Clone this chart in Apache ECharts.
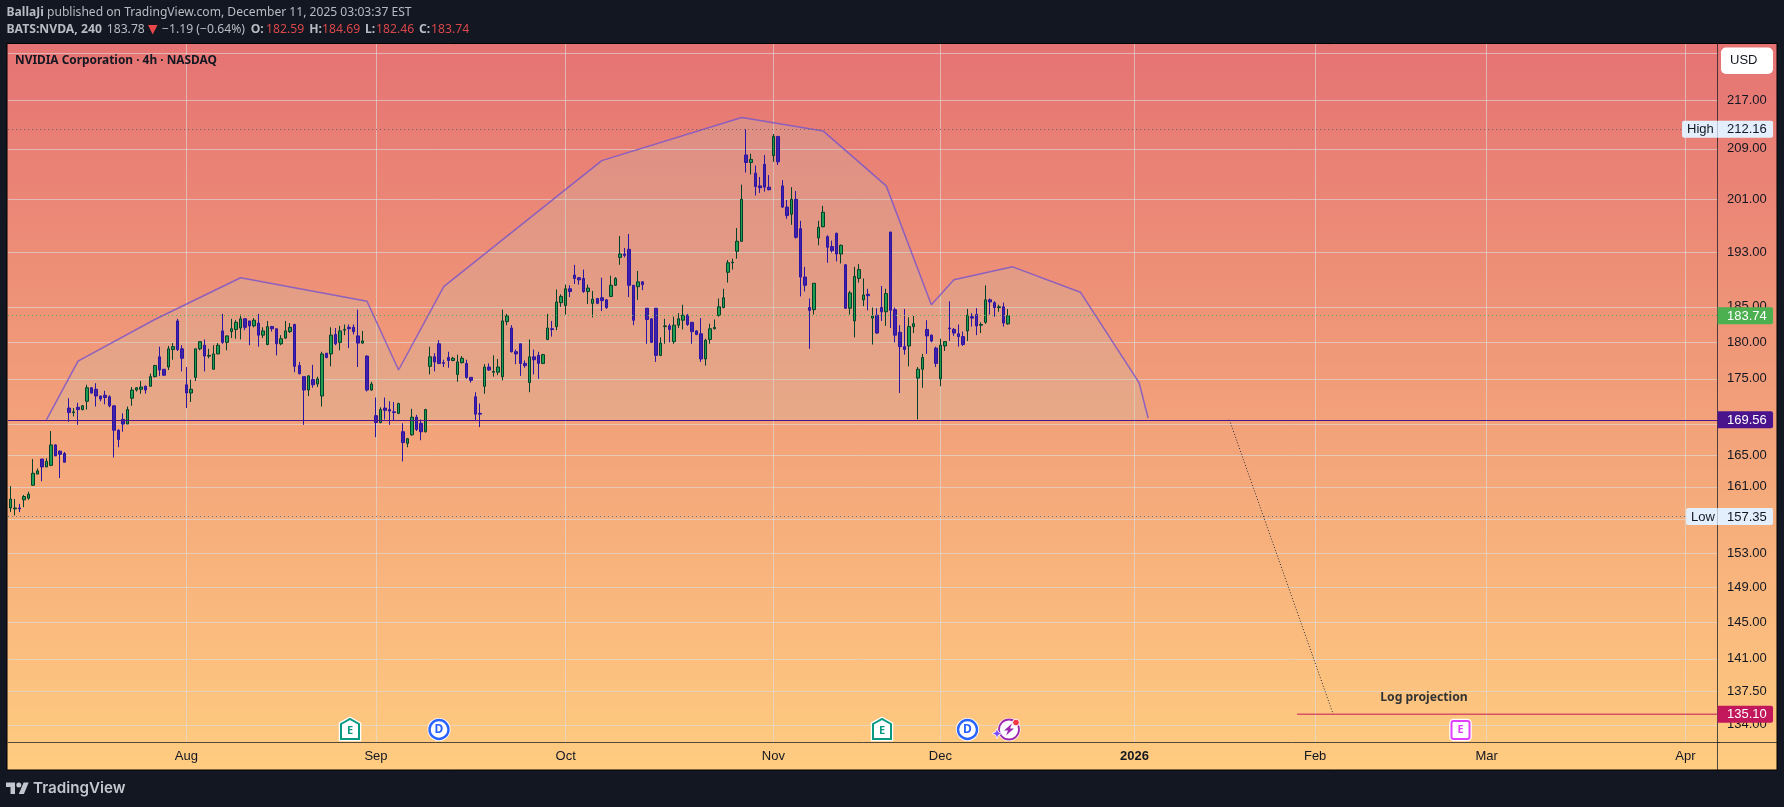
<!DOCTYPE html>
<html>
<head>
<meta charset="utf-8">
<title>NVDA 4h</title>
<script src="https://cdn.jsdelivr.net/npm/echarts@6/dist/echarts.min.js"></script>
<style>
  html, body { margin: 0; padding: 0; background: #131722; }
  #chart_1 { width: 1784px; height: 807px; }
</style>
</head>
<body>
<div id="chart_1"></div>
<script>
'use strict';
// bars, one entry per 4h bar
var opens = [
  158.4,158.3,158.4,159.4,159.6,161.2,162.6,164.5,163.5,163.7,
  166.3,165.5,165.2,171.1,170.5,171.2,170.9,172.0,173.8,173.6,
  172.7,172.8,172.6,171.4,168.2,169.6,169.0,172.4,173.5,173.6,
  174.0,174.0,175.3,178.0,176.3,176.6,179.0,183.0,179.1,174.2,
  173.1,175.2,179.1,179.6,178.1,176.3,178.4,181.6,180.0,181.5,
  181.8,182.0,183.3,183.0,182.3,182.7,181.0,179.7,182.2,181.9,
  179.8,180.6,181.5,182.5,176.8,175.3,173.5,174.9,174.3,172.7,
  178.5,178.4,181.1,180.0,181.7,182.1,182.1,180.9,179.9,178.1,
  173.5,170.1,169.2,171.1,170.9,170.6,170.4,168.0,166.5,167.6,
  169.9,169.1,168.0,176.7,178.0,179.8,177.2,177.9,177.5,175.6,
  177.2,177.1,175.2,172.6,170.4,174.0,176.6,175.9,175.9,175.3,
  182.9,182.0,178.7,179.8,177.1,174.5,178.0,178.2,177.1,180.4,
  181.9,182.2,185.6,185.2,187.6,189.6,189.2,189.1,187.2,185.5,
  186.2,186.3,186.0,186.5,188.1,192.2,192.7,193.4,188.1,187.9,
  188.6,184.8,183.3,184.8,178.2,182.2,182.3,180.1,182.4,183.1,
  183.8,182.8,181.6,181.2,177.7,180.4,181.9,183.8,184.9,190.0,
  191.4,193.1,194.6,208.0,206.8,205.1,203.1,206.5,202.9,207.9,
  211.0,203.1,199.8,198.7,201.0,196.5,189.3,184.9,184.6,195.1,
  196.8,195.3,193.8,195.8,192.7,191.1,184.8,183.0,189.1,186.0,
  186.8,183.4,183.8,184.9,184.3,196.0,184.6,181.4,179.4,179.5,
  182.2,175.1,176.3,181.8,181.0,179.2,175.0,179.5,182.0,181.8,
  181.2,180.8,181.6,183.6,183.9,182.4,182.8,186.0,185.6,184.9,
  185.0,182.59
];
var closes = [
  159.5,158.4,158.3,159.8,160.1,162.7,163.0,163.5,164.2,166.3,
  164.9,165.1,164.1,170.5,170.6,170.9,171.4,173.8,173.1,172.7,
  172.3,172.5,171.4,168.2,167.0,169.0,170.9,173.5,173.8,173.9,
  173.5,175.3,176.8,176.2,175.5,179.1,179.4,179.0,177.8,173.1,
  173.6,179.1,180.1,178.1,178.2,178.4,179.6,180.0,180.9,181.9,
  182.8,183.3,182.1,182.3,183.1,181.0,181.6,182.2,181.9,179.8,
  180.5,181.6,182.1,176.7,175.7,173.5,175.4,174.2,175.0,178.4,
  177.9,181.0,179.8,181.6,181.8,181.9,181.5,179.9,180.2,173.5,
  174.3,169.2,170.9,170.8,170.7,170.5,171.7,166.6,167.1,169.9,
  168.3,168.0,170.9,178.0,177.3,177.1,177.1,177.5,177.8,177.3,
  177.8,175.2,174.8,170.3,170.3,176.6,176.2,176.0,176.6,183.0,
  183.7,178.7,178.4,177.1,176.8,178.0,177.6,177.1,178.3,182.0,
  181.8,185.7,186.5,187.6,187.2,189.1,188.9,187.2,187.7,186.1,
  185.5,185.9,184.9,188.1,189.1,192.7,192.5,188.1,183.1,188.6,
  188.2,183.2,180.0,178.2,179.9,182.3,181.8,182.4,183.3,183.8,
  182.5,181.5,181.1,177.7,180.3,181.9,182.1,185.0,186.3,191.4,
  191.5,194.6,201.0,206.8,207.3,203.0,202.8,202.9,202.5,211.0,
  206.9,199.8,198.5,201.0,195.2,189.3,188.1,184.5,188.4,196.7,
  199.0,193.7,193.2,192.7,194.0,184.8,187.0,189.4,190.4,186.7,
  186.6,183.7,181.3,184.3,186.9,184.5,181.0,179.4,179.0,182.2,
  182.6,176.3,177.9,180.9,180.2,177.1,179.6,180.1,181.9,181.3,
  180.8,179.7,183.8,183.4,182.3,182.5,186.0,185.7,184.9,185.0,
  182.7,183.74
];
var lows = [
  157.9,157.5,157.9,158.5,159.4,161.2,162.6,161.7,163.5,163.6,
  164.9,162.1,164.1,169.3,170.0,168.9,170.8,170.9,173.0,171.3,
  172.0,171.6,171.2,164.7,166.0,168.0,169.0,171.4,173.3,173.0,
  173.0,174.0,175.2,175.4,175.4,176.2,177.6,178.8,176.0,171.1,
  171.9,174.7,178.9,176.0,177.8,176.3,178.4,179.8,178.9,180.6,
  180.5,180.4,181.7,179.6,182.1,179.4,180.6,179.6,181.5,178.2,
  179.6,180.5,181.3,175.9,175.6,168.9,172.7,173.8,173.9,171.3,
  177.8,176.7,179.6,178.9,181.0,179.2,181.1,176.6,179.8,173.3,
  173.4,167.3,169.1,169.6,168.9,169.5,170.3,164.2,166.0,167.5,
  168.1,166.9,167.9,175.6,176.0,177.0,176.6,176.5,177.4,174.6,
  177.1,175.0,174.5,169.4,168.6,173.0,176.1,175.3,175.5,174.8,
  182.4,178.6,177.0,175.4,176.5,173.2,175.6,175.0,177.0,180.3,
  180.8,181.7,185.0,183.9,186.4,188.3,188.2,187.0,185.4,183.5,
  185.4,184.4,184.7,186.4,188.0,191.1,192.2,186.4,182.4,186.0,
  187.4,179.8,179.9,177.3,178.1,179.8,180.0,179.8,182.0,181.8,
  182.3,179.8,181.0,177.3,176.8,179.8,181.8,183.6,184.8,188.5,
  190.4,192.0,194.5,205.2,204.9,201.6,202.0,202.2,202.4,206.9,
  206.4,199.7,198.0,197.1,195.0,186.5,187.2,179.1,183.9,194.0,
  196.7,191.4,192.9,191.6,191.3,184.7,183.9,180.7,188.5,185.1,
  184.5,179.7,181.2,183.0,182.3,182.0,180.0,173.1,178.3,176.7,
  181.3,169.6,173.8,178.4,180.0,176.6,174.0,178.8,180.2,180.9,
  179.4,179.5,180.2,182.2,181.0,181.3,182.6,183.9,183.6,184.3,
  182.2,182.46
];
var highs = [
  161.1,159.5,158.9,160.0,160.4,164.5,163.3,164.5,164.6,168.1,
  166.4,165.6,165.4,172.4,171.1,171.8,171.5,174.2,173.9,174.4,
  172.7,173.4,172.8,171.4,168.3,170.4,171.3,173.9,173.9,174.7,
  174.1,175.7,176.9,179.4,176.3,179.5,179.9,183.3,179.6,176.6,
  174.9,179.1,180.1,180.4,179.1,179.6,179.9,184.0,180.9,183.3,
  183.1,183.9,183.4,183.0,183.4,184.0,182.1,183.0,182.3,181.9,
  181.0,183.0,182.7,182.6,177.3,175.3,175.5,176.9,175.3,178.7,
  178.5,182.1,182.0,182.3,182.5,182.5,182.5,184.6,181.6,178.2,
  174.6,172.5,171.2,172.5,172.0,171.9,171.8,169.1,167.2,171.0,
  170.2,169.6,171.0,179.4,178.5,180.3,177.6,178.7,178.0,178.3,
  178.1,177.6,175.2,173.2,171.7,177.0,177.1,178.2,177.7,184.6,
  184.0,182.4,179.0,179.8,177.5,180.4,179.0,178.7,178.4,184.0,
  183.0,187.5,186.8,188.2,188.1,191.1,189.3,190.4,188.2,187.3,
  186.2,189.2,186.1,189.5,189.3,195.4,193.6,195.7,188.1,190.2,
  188.7,184.8,183.3,184.8,180.7,183.3,182.6,183.6,184.1,185.3,
  184.0,182.8,181.7,183.4,180.5,182.6,183.2,186.2,187.6,191.8,
  192.0,196.6,203.3,212.16,208.2,206.3,204.5,208.0,204.8,211.4,
  211.0,204.0,200.9,202.9,202.3,197.7,190.8,186.2,188.4,197.7,
  200.0,195.5,194.7,195.9,194.1,191.2,187.3,190.8,191.2,189.1,
  187.6,184.9,184.8,188.0,187.6,196.0,184.9,182.4,184.7,183.5,
  183.7,176.6,178.4,183.1,181.1,179.4,180.5,180.1,185.8,182.0,
  182.5,181.5,184.7,184.1,184.8,182.8,188.1,186.2,185.8,185.3,
  185.6,184.69
];

// 379 slots on the time axis, bars plus the empty future
var slotCount = 379;
var monthSlots = [39, 81, 123, 169, 206, 249, 289, 327, 371];
var monthLabels = ['Aug', 'Sep', 'Oct', 'Nov', 'Dec', '2026', 'Feb', 'Mar', 'Apr'];

var gridPrices = [225, 217, 209, 201, 193, 185, 180, 175, 169, 165, 161, 157, 153, 149, 145, 141, 137.5, 134];
var labelPrices = [217, 209, 201, 193, 185, 180, 175, 165, 161, 153, 149, 145, 141, 137.5, 134];

// head and shoulders outline
var shapeSlots = [8, 15, 32, 51, 79, 86, 96, 131, 162, 180, 194, 204, 209, 222, 237, 250, 252];
var shapePrices = [169.56, 177.4, 183.2, 189.2, 185.8, 176.2, 187.9, 207.1, 214.1, 211.9, 203.1, 185.3, 188.9, 190.8, 187.1, 174.5, 169.8];

// log projection
var projectionSlots = [270, 293];
var projectionPrices = [169.56, 135.1];
var targetSlots = [285, 378];
var targetPrices = [135.1, 135.1];

var highPrice = 212.16;
var lowPrice = 157.35;
var lastPrice = 183.74;
var neckPrice = 169.56;

var badgeValues = [212.16, 157.35, 183.74, 169.56, 135.1];
var badgeSides = ['High', 'Low', '', '', ''];
var badgeFills = ['#e3effd', '#e3effd', '#4caf50', '#4a148c', '#c2185b'];
var badgeTexts = ['#131722', '#131722', '#ffffff', '#ffffff', '#ffffff'];

// second header line, each piece placed on its own: x, text, style
var quoteX = [6.5, 106.7, 162, 250.7, 266, 309.3, 322, 365, 376, 419, 431];
var quoteText = ['BATS:NVDA, 240', '183.78', '−1.19 (−0.64%)', 'O:', '182.59', 'H:', '184.69', 'L:', '182.46', 'C:', '183.74'];
var quoteKind = ['b', 'n', 'n', 'b', 'r', 'b', 'r', 'b', 'r', 'b', 'r'];

var axisFont = '"Liberation Sans", Arial, sans-serif';
var headFont = '"Noto Sans", sans-serif';
var headText = '#b8bbc3';
var headRed = '#d9474a';
var darkLine = 'rgba(19,23,34,0.72)';
var gridLine = 'rgba(222,222,222,0.6)';
var axisInset = 1.7;

function zip(xs, ys) {
  return xs.map(function (x, i) { return [x, ys[i]]; });
}

function panelGradient() {
  return new echarts.graphic.LinearGradient(0, 43.5, 0, 770, [
    { offset: 0, color: '#e57373' }, { offset: 1, color: '#ffcc80' }
  ], true);
}

function tagE(x, y, color, square) {
  var shape = square
    ? { x: x - 9, y: y - 9, width: 18, height: 18, r: 2 }
    : { points: [[x - 9, y - 6], [x, y - 11], [x + 9, y - 6], [x + 9, y + 9], [x - 9, y + 9]] };
  var type = square ? 'rect' : 'polygon';
  return [{
    type: type, z: 59, shape: shape, style: { fill: '#ffffff', stroke: '#ffffff', lineWidth: 4.5 }
  }, {
    type: type, z: 60, shape: shape, style: { fill: '#ffffff', stroke: color, lineWidth: 2 }
  }, {
    type: 'text', z: 61, x: x, y: y + (square ? 0 : 1),
    style: { text: 'E', fill: color, font: 'bold 11px ' + headFont, align: 'center', verticalAlign: 'middle' }
  }];
}

function markD(x, y) {
  return [{
    type: 'circle', z: 60, shape: { cx: x, cy: y, r: 9.5 },
    style: { fill: '#ffffff', stroke: '#2962ff', lineWidth: 2.4 }
  }, {
    type: 'circle', z: 59, shape: { cx: x, cy: y, r: 11.5 }, style: { fill: '#ffffff' }
  }, {
    type: 'text', z: 61, x: x, y: y,
    style: { text: 'D', fill: '#2962ff', font: 'bold 12px ' + headFont, align: 'center', verticalAlign: 'middle' }
  }];
}

function markBolt(x, y) {
  return [{
    type: 'circle', z: 59, shape: { cx: x, cy: y, r: 11.5 }, style: { fill: '#ffffff' }
  }, {
    type: 'circle', z: 60, shape: { cx: x, cy: y, r: 10 },
    style: { fill: '#ffffff', stroke: '#9c27b0', lineWidth: 1.8 }
  }, {
    type: 'polygon', z: 61,
    shape: { points: [[x + 3, y - 6], [x - 5, y + 1], [x - 1, y + 1], [x - 3, y + 6], [x + 5, y - 1], [x + 1, y - 1]] },
    style: { fill: '#9c27b0' }
  }, {
    type: 'polygon', z: 61,
    shape: { points: [[x - 12, y - 1], [x - 10.5, y + 2.5], [x - 7, y + 4], [x - 10.5, y + 5.5], [x - 12, y + 9], [x - 13.5, y + 5.5], [x - 17, y + 4], [x - 13.5, y + 2.5]] },
    style: { fill: '#7c4dff', stroke: '#ffffff', lineWidth: 0.8 }
  }, {
    type: 'circle', z: 62, shape: { cx: x + 7, cy: y - 7, r: 3.4 },
    style: { fill: '#f23645', stroke: '#ffffff', lineWidth: 1 }
  }];
}

function quoteLine() {
  var pieces = quoteText.map(function (t, i) {
    var bold = quoteKind[i] === 'b';
    return {
      type: 'text', z: 50, x: quoteX[i], y: 29.5,
      style: {
        text: t,
        fill: quoteKind[i] === 'r' ? headRed : headText,
        font: (bold ? 'bold ' : '') + '12.2px ' + headFont,
        verticalAlign: 'middle'
      }
    };
  });
  pieces.push({
    type: 'polygon', z: 50,
    shape: { points: [[148, 25], [157.5, 25], [152.7, 34.5]] },
    style: { fill: '#e8474a' }
  });
  return pieces;
}

function buildGraphics() {
  var list = [
    { type: 'rect', z: -10, shape: { x: 7, y: 43.5, width: 1770, height: 726.5 },
      style: { fill: panelGradient(), stroke: '#000000', lineWidth: 1 } },
    // grid runs a hair past the price axis, painted back over here
    { type: 'rect', z: 1, shape: { x: 1718, y: 44.5, width: 3, height: 697 }, style: { fill: panelGradient() } },
    // axis lines carried through the corner
    { type: 'line', z: 5, shape: { x1: 1717.5, y1: 742, x2: 1717.5, y2: 770 }, style: { stroke: darkLine, lineWidth: 1 } },
    { type: 'line', z: 5, shape: { x1: 1717, y1: 742.5, x2: 1777, y2: 742.5 }, style: { stroke: darkLine, lineWidth: 1 } },
    // header
    { type: 'text', z: 50, x: 6.5, y: 12.5, style: {
        text: '{b|BallaJi} published on TradingView.com, December 11, 2025 03:03:37 EST',
        fill: headText, font: '12.1px ' + headFont, verticalAlign: 'middle',
        rich: { b: { fill: headText, font: 'bold 12.1px ' + headFont } }
    } },
    { type: 'text', z: 50, x: 15, y: 60.5, style: {
        text: 'NVIDIA Corporation · 4h · NASDAQ', fill: '#131722',
        font: 'bold 11.9px ' + headFont, verticalAlign: 'middle'
    } },
    { type: 'text', z: 50, x: 1424, y: 697.5, style: {
        text: 'Log projection', fill: '#333333', align: 'center',
        font: 'bold 12.2px ' + headFont, verticalAlign: 'middle'
    } },
    // currency button
    { type: 'rect', z: 50, shape: { x: 1721, y: 47.5, width: 52, height: 26.5, r: 5 }, style: { fill: '#ffffff' } },
    { type: 'text', z: 51, x: 1730, y: 60.5, style: {
        text: 'USD', fill: '#131722', font: '13px ' + axisFont, verticalAlign: 'middle'
    } },
    // footer brand
    { type: 'polygon', z: 50,
      shape: { points: [[6, 782.5], [15, 782.5], [15, 794], [10.5, 794], [10.5, 787], [6, 787]] },
      style: { fill: '#c3c6ce' } },
    { type: 'polygon', z: 50,
      shape: { points: [[23.6, 782.5], [28.7, 782.5], [23.9, 794], [18.8, 794]] },
      style: { fill: '#c3c6ce' } },
    { type: 'circle', z: 50, shape: { cx: 18.8, cy: 785, r: 2.5 }, style: { fill: '#c3c6ce' } },
    { type: 'text', z: 50, x: 33, y: 788.5, style: {
        text: 'TradingView', fill: '#c3c6ce', font: '600 15.2px Inter, sans-serif', verticalAlign: 'middle'
    } }
  ];
  return list
    .concat(quoteLine())
    .concat(tagE(350, 730, '#089981', false))
    .concat(markD(439, 729.5))
    .concat(tagE(882, 730, '#089981', false))
    .concat(markD(967.5, 729.5))
    .concat(markBolt(1009, 729.5))
    .concat(tagE(1460.5, 730, '#e040fb', true));
}

function renderBadge(params, api) {
  var i = api.value(2);
  var y = api.coord([0, api.value(1)])[1];
  var edge = params.coordSys.x + params.coordSys.width - axisInset;
  var children = [{
    type: 'rect', shape: { x: edge, y: y - 8.5, width: 55.5, height: 17, r: [0, 2, 2, 0] },
    style: { fill: badgeFills[i] }
  }, {
    type: 'text', x: edge + 9.5, y: y + 0.5,
    style: { text: badgeValues[i].toFixed(2), fill: badgeTexts[i], font: '13px ' + axisFont, verticalAlign: 'middle' }
  }];
  if (badgeSides[i]) {
    var w = badgeSides[i] === 'High' ? 35.5 : 31.5;
    children.push({
      type: 'rect', shape: { x: edge - w, y: y - 8.5, width: w, height: 17, r: [2, 0, 0, 2] },
      style: { fill: badgeFills[i] }
    }, {
      type: 'text', x: edge - w + 5, y: y + 0.5,
      style: { text: badgeSides[i], fill: badgeTexts[i], font: '13px ' + axisFont, verticalAlign: 'middle' }
    });
  }
  return { type: 'group', children: children };
}

document.addEventListener('DOMContentLoaded', function () {
  var myChart = echarts.init(document.getElementById('chart_1'));
  var slots = [];
  for (var s = 0; s < slotCount; s++) { slots.push(String(s)); }
  var ohlc = opens.map(function (o, i) { return [o, closes[i], lows[i], highs[i]]; });

  var option = {
    animation: false,
    backgroundColor: '#131722',
    grid: { left: 8.04, right: 64.76, top: 44, bottom: 64.7, containLabel: false },
    graphic: { elements: buildGraphics() },
    xAxis: {
      type: 'category',
      data: slots,
      boundaryGap: true,
      axisLine: { lineStyle: { color: darkLine, width: 1 } },
      axisTick: { show: false, alignWithLabel: true, interval: function (i) { return monthSlots.indexOf(i) >= 0; } },
      splitLine: {
        show: true,
        alignWithLabel: true,
        interval: function (i) { return monthSlots.indexOf(i) >= 0; },
        lineStyle: { color: gridLine, width: 1 }
      },
      axisLabel: {
        interval: function (i) { return monthSlots.indexOf(i) >= 0; },
        margin: 8,
        hideOverlap: false,
        fontFamily: axisFont,
        fontSize: 13,
        color: '#131722',
        formatter: function (v) {
          var label = monthLabels[monthSlots.indexOf(Number(v))];
          return label === '2026' ? '{y|2026}' : label;
        },
        rich: { y: { fontFamily: axisFont, fontSize: 13, fontWeight: 'bold', color: '#131722' } }
      }
    },
    yAxis: {
      type: 'log',
      position: 'right',
      offset: -axisInset,
      min: 132.2,
      max: 226.6,
      axisLine: { show: true, onZero: false, lineStyle: { color: darkLine, width: 1 } },
      axisTick: { show: false, customValues: gridPrices },
      splitLine: { show: true, lineStyle: { color: gridLine, width: 1 } },
      minorSplitLine: { show: false },
      axisLabel: {
        customValues: labelPrices,
        margin: 9.5,
        fontFamily: axisFont,
        fontSize: 13,
        color: '#131722',
        formatter: function (v) { return Number(v).toFixed(2); }
      }
    },
    series: [
      {
        type: 'line',
        name: 'shape',
        z: 1,
        data: zip(shapeSlots, shapePrices),
        showSymbol: false,
        lineStyle: { color: 'rgba(126,87,200,0.85)', width: 1.5 },
        areaStyle: { color: 'rgba(195,195,180,0.24)', origin: neckPrice, opacity: 1 },
        markLine: {
          silent: true,
          symbol: 'none',
          label: { show: false },
          data: [
            { yAxis: highPrice, lineStyle: { color: '#6d6468', type: [1, 3], width: 1 } },
            { yAxis: lowPrice, lineStyle: { color: '#5f7488', type: [1, 3], width: 1 } },
            { yAxis: lastPrice, lineStyle: { color: '#4caf50', type: [1, 3], width: 1 } },
            { yAxis: neckPrice, lineStyle: { color: '#4a148c', type: 'solid', width: 1.2 } }
          ]
        }
      },
      {
        type: 'candlestick',
        name: 'NVDA',
        z: 3,
        barWidth: 3,
        data: ohlc,
        itemStyle: {
          color: '#1f9d52',
          color0: '#3f20a8',
          borderColor: '#00412a',
          borderColor0: '#2c14a2',
          borderWidth: 1
        }
      },
      {
        type: 'line',
        name: 'projection',
        z: 2,
        data: zip(projectionSlots, projectionPrices),
        showSymbol: false,
        lineStyle: { color: '#2a2e39', type: [1, 2], width: 1 }
      },
      {
        type: 'line',
        name: 'target',
        z: 2,
        data: zip(targetSlots, targetPrices),
        showSymbol: false,
        lineStyle: { color: '#c2185b', width: 1 }
      },
      {
        type: 'custom',
        name: 'badges',
        z: 10,
        silent: true,
        clip: false,
        renderItem: renderBadge,
        data: badgeValues.map(function (v, i) { return [0, v, i]; })
      }
    ]
  };
  myChart.setOption(option);
});
</script>
</body>
</html>
